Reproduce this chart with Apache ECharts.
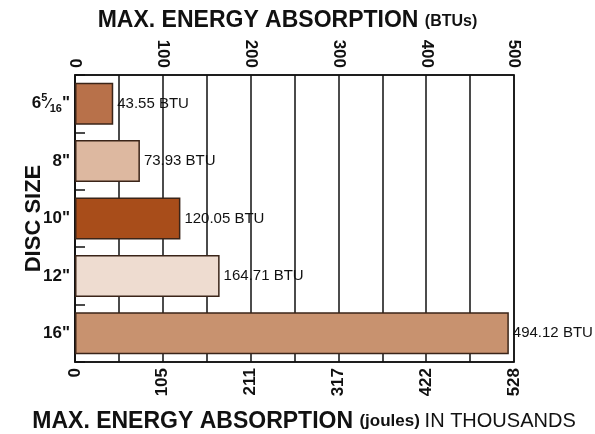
<!DOCTYPE html>
<html><head><meta charset="utf-8">
<script src="https://cdn.jsdelivr.net/npm/echarts@6/dist/echarts.min.js"></script>
<style>html,body{margin:0;padding:0;background:#fff}#c{width:595px;height:434px}</style>
</head><body><div id="c"></div>
<script>
var categories = ['6 5/16"', '8"', '10"', '12"', '16"'];
var btuValues = [43.55, 73.93, 120.05, 164.71, 494.12];
var barColors = ['#B8714A', '#DDB8A0', '#A84D1A', '#EEDCD0', '#C8926F'];
var topTicks = ['0', '100', '200', '300', '400', '500'];
var bottomTicks = ['0', '105', '211', '317', '422', '528'];

var F = "'Liberation Sans Narrow','Arial Narrow','Liberation Sans',sans-serif";
var chart = echarts.init(document.getElementById('c'), null, {renderer: 'canvas'});

function catLabel(v) {
  if (v.indexOf('5/16') >= 0) return '{m|6}{sup|5}{sl|⁄}{sub|16}{m|"}';
  return '{m|' + v + '}';
}

chart.setOption({
  animation: false,
  backgroundColor: '#fff',
  grid: {left: 75, right: 81, top: 75, bottom: 72, outerBoundsMode: 'none', containLabel: false,
    show: true, borderColor: '#111', borderWidth: 1.5, backgroundColor: 'transparent'},
  xAxis: [{
    type: 'value', position: 'top', min: 0, max: 500, interval: 100,
    axisLine: {show: true, lineStyle: {color: '#111', width: 1.5}},
    axisTick: {show: false},
    splitLine: {show: true, lineStyle: {color: '#111', width: 1.5}},
    minorTick: {show: false, splitNumber: 2},
    minorSplitLine: {show: true, lineStyle: {color: '#111', width: 1.5}},
    axisLabel: {rotate: 90, margin: 7, color: '#111', fontFamily: F, fontWeight: 'bold', fontSize: 17,
      formatter: function (v) { return topTicks[Math.round(v / 100)]; }},
    name: '{a|MAX. ENERGY ABSORPTION }{b|(BTUs)}',
    nameLocation: 'middle', nameGap: 41,
    nameTextStyle: {padding: [0, 14, 0, 0], rich: {
      a: {fontFamily: F, fontWeight: 'bold', fontSize: 23, color: '#111'},
      b: {fontFamily: F, fontWeight: 'bold', fontSize: 16, color: '#111', verticalAlign: 'bottom', padding: [0, 0, 2, 0]}
    }}
  }, {
    type: 'value', position: 'bottom', min: 0, max: 500, interval: 100,
    axisLine: {show: true, lineStyle: {color: '#111', width: 1.5}},
    axisTick: {show: false},
    splitLine: {show: false},
    axisLabel: {rotate: 90, margin: 6, color: '#111', fontFamily: F, fontWeight: 'bold', fontSize: 17,
      formatter: function (v) { return bottomTicks[Math.round(v / 100)]; }},
    name: '{a|MAX. ENERGY ABSORPTION }{b|(joules) }{c|IN THOUSANDS}',
    nameLocation: 'middle', nameGap: 48,
    nameTextStyle: {padding: [0, 0, 0, 19], rich: {
      a: {fontFamily: F, fontWeight: 'bold', fontSize: 23, color: '#111'},
      b: {fontFamily: F, fontWeight: 'bold', fontSize: 17, color: '#111'},
      c: {fontFamily: F, fontWeight: 'normal', fontSize: 20, color: '#111'}
    }}
  }],
  yAxis: {
    type: 'category', data: categories, inverse: true,
    axisLine: {show: true, lineStyle: {color: '#111', width: 1.5}},
    axisTick: {show: true, inside: true, length: 10, lineStyle: {color: '#111', width: 1.5}},
    axisLabel: {margin: 5, formatter: catLabel, rich: {
      m: {fontFamily: F, fontWeight: 'bold', fontSize: 17, color: '#111', lineHeight: 22},
      sup: {fontFamily: F, fontWeight: 'bold', fontSize: 11, color: '#111', verticalAlign: 'top', lineHeight: 14},
      sl: {fontFamily: F, fontWeight: 'bold', fontSize: 14, color: '#111'},
      sub: {fontFamily: F, fontWeight: 'bold', fontSize: 11, color: '#111', verticalAlign: 'bottom', lineHeight: 12}
    }},
    name: 'DISC SIZE', nameLocation: 'middle', nameRotate: 90, nameGap: 30, nameMoveOverlap: false,
    nameTextStyle: {fontFamily: F, fontWeight: 'bold', fontSize: 22, color: '#111'}
  },
  series: [{
    type: 'bar', xAxisIndex: 0, barWidth: 42,
    data: btuValues.map(function (v, i) {
      return {value: v, itemStyle: {color: barColors[i]}};
    }),
    itemStyle: {borderColor: '#3a2418', borderWidth: 1.5},
    label: {show: true, position: 'right', distance: 4, color: '#111', fontFamily: F, fontSize: 15,
      formatter: function (p) { return p.value.toFixed(2) + ' BTU'; }},
    z: 3
  }]
});
</script></body></html>
